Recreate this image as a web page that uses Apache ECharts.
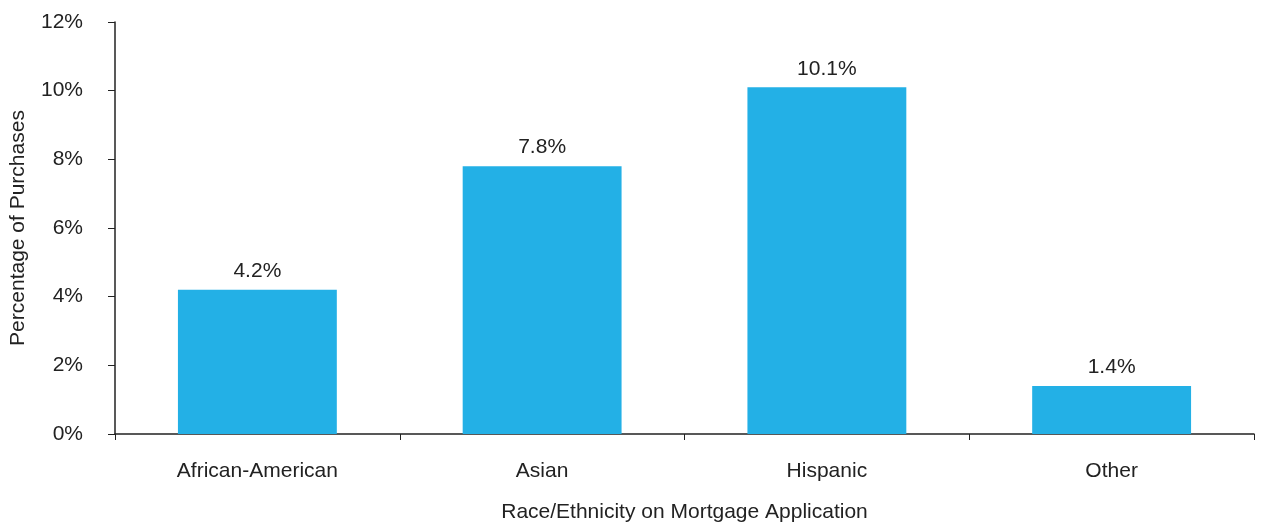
<!DOCTYPE html>
<html><head><meta charset="utf-8">
<script src="https://cdn.jsdelivr.net/npm/echarts@6/dist/echarts.min.js"></script>
<style>html,body{margin:0;padding:0;background:#fff}#c{width:1262px;height:522px}</style>
</head><body><div id="c"></div>
<script>
const categories = ['African-American', 'Asian', 'Hispanic', 'Other'];
const values = [4.2, 7.8, 10.1, 1.4];
const yTicks = [0, 2, 4, 6, 8, 10, 12];
const font = 'Helvetica, Arial, "Liberation Sans", sans-serif';
const fs = 21;
const chart = echarts.init(document.getElementById('c'));
chart.setOption({
  animation: false,
  grid: {left: 115, right: 8, top: 22, bottom: 88, containLabel: false, outerBoundsMode: 'none'},
  xAxis: {
    type: 'category', data: categories,
    name: 'Race/Ethnicity on Mortgage Application', nameLocation: 'middle', nameGap: 68,
    nameTextStyle: {fontFamily: font, fontSize: fs, color: '#222'},
    axisLine: {lineStyle: {color: '#222', width: 1.5}},
    axisTick: {show: true, length: 6, lineStyle: {color: '#222'}},
    axisLabel: {fontFamily: font, fontSize: fs, color: '#222', margin: 27}
  },
  yAxis: {
    type: 'value', min: yTicks[0], max: yTicks[yTicks.length - 1], interval: 2,
    name: 'Percentage of Purchases', nameLocation: 'middle', nameGap: 86,
    nameTextStyle: {fontFamily: font, fontSize: fs, color: '#222'},
    axisLine: {show: true, lineStyle: {color: '#222', width: 1.5}},
    axisTick: {show: true, length: 7, lineStyle: {color: '#222'}},
    splitLine: {show: false},
    axisLabel: {fontFamily: font, fontSize: fs, color: '#222', margin: 32, formatter: v => v + '%'}
  },
  series: [{
    type: 'bar', data: values, barWidth: '55.8%',
    itemStyle: {color: '#23B0E6'},
    label: {show: true, position: 'top', distance: 8, fontFamily: font, fontSize: fs, color: '#222',
      formatter: p => p.value.toFixed(1) + '%'}
  }]
});
</script></body></html>
